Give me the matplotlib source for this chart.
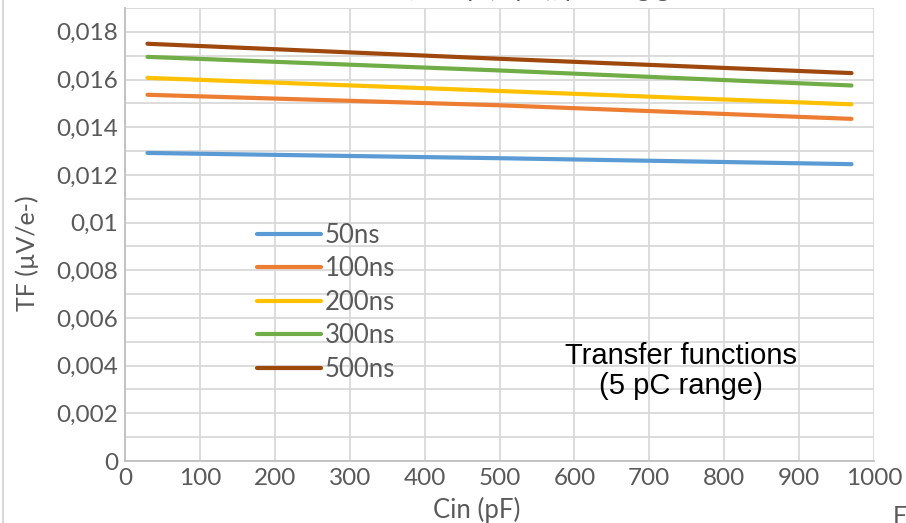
import matplotlib.pyplot as plt
from matplotlib.lines import Line2D

# Cin (pF) and TF (uV/e-)
cin = [30, 500, 970]
tf_50 = [0.01292, 0.01270, 0.01245]
tf_100 = [0.01536, 0.01492, 0.01435]
tf_200 = [0.01607, 0.01552, 0.01496]
tf_300 = [0.01695, 0.01638, 0.01575]
tf_500 = [0.01750, 0.01687, 0.01627]
series = [("50ns", tf_50), ("100ns", tf_100), ("200ns", tf_200),
          ("300ns", tf_300), ("500ns", tf_500)]
colors = ["#5B9BD5", "#ED7D31", "#FFC000", "#70AD47", "#9E480E"]

xticks = list(range(0, 1001, 100))
yticks = [i * 0.002 for i in range(10)]
ylabels = ["0"] + ["0,01" if abs(v - 0.01) < 1e-9 else f"{v:.3f}".replace(".", ",") for v in yticks[1:]]

W, H = 906, 523
fig = plt.figure(figsize=(W / 100, H / 100), dpi=100)
ax = fig.add_axes([125 / W, 1 - 461 / H, (874 - 125) / W, (461 - 8) / H])

for (name, vals), c in zip(series, colors):
    ax.plot(cin, vals, color=c, lw=3, solid_capstyle="round", label=name)

ax.set_xlim(0, 1000)
ax.set_ylim(0, 0.019)
ax.set_xticks(xticks)
ax.set_xticklabels([str(v) for v in xticks])
ax.set_yticks([i * 0.001 for i in range(20)])
ax.set_yticklabels([ylabels[i // 2] if i % 2 == 0 else "" for i in range(20)])
ax.grid(True, color="#d9d9d9", lw=1.3)
ax.set_axisbelow(True)
for s in ["top", "right"]:
    ax.spines[s].set_visible(False)
for s in ["left", "bottom"]:
    ax.spines[s].set_color("#bfbfbf")
    ax.spines[s].set_linewidth(1.3)
ax.tick_params(length=0, labelsize=17.5, labelcolor="#595959", pad=5)
for lbl in ax.get_xticklabels() + ax.get_yticklabels():
    lbl.set_fontfamily("Lato")

handles = [Line2D([], [], color=c, lw=3, solid_capstyle="round") for c in colors]
leg = ax.legend(handles, [n for n, _ in series], frameon=False, loc="upper left",
                bbox_to_anchor=(257 / W, 1 - 223 / H), bbox_transform=fig.transFigure,
                borderpad=0, borderaxespad=0,
                handlelength=2.5, handletextpad=0.15, labelspacing=0.33,
                prop={"family": "Lato", "size": 18.5})
for t in leg.get_texts():
    t.set_color("#595959")

ax.text(0.742, 0.198, "Transfer functions\n(5 pC range)", transform=ax.transAxes,
        ha="center", va="center", fontsize=21, family="Liberation Sans",
        color="black", linespacing=1.1)

fig.text(27 / W, 1 - 253 / H, "TF (µV/e-)", rotation=90, ha="center", va="center",
         fontsize=18, family="Lato", color="#595959")
fig.text(477 / W, 1 - 510 / H, "Cin (pF)", ha="center", va="center",
         fontsize=18.5, family="Lato", color="#595959")
fig.text(505 / W, 1 + 3 / H, "TF vs Cin, all Tp (5 pC), peaking gain",
         ha="center", va="baseline", fontsize=18, family="Lato", color="#595959")
fig.text(893 / W, 1 - 505 / H, "F", ha="left", va="top",
         fontsize=18, family="Lato", color="#595959")
fig.add_artist(Line2D([3 / W, 3 / W], [0, 1], transform=fig.transFigure,
                      color="#d9d9d9", lw=1.5))

fig.savefig("out.png", dpi=100)
